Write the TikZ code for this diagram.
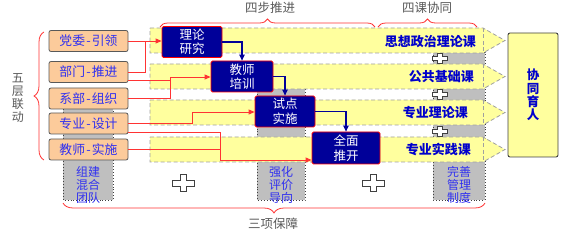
\documentclass[tikz,border=0pt]{standalone}
\usepackage{fontspec}
\setmainfont{Noto Sans CJK SC}
\usetikzlibrary{arrows.meta,decorations.pathreplacing,calc}
\definecolor{orangefill}{HTML}{FCCB9B}
\definecolor{boxgray}{HTML}{595959}
\definecolor{txtblue}{HTML}{3030F0}
\definecolor{courseblue}{HTML}{0000CC}
\definecolor{navy}{HTML}{000099}
\definecolor{laneyellow}{HTML}{FFFF9E}
\definecolor{lanegray}{HTML}{A0A0A0}
\definecolor{colgray}{HTML}{BFBFBF}
\definecolor{linered}{HTML}{FF3333}
\definecolor{labelgray}{HTML}{595959}
\definecolor{plusgray}{HTML}{404040}
\newcommand{\lhy}{\kern1.2pt-\kern1.2pt}
\tikzset{
  layerbox/.style={draw=boxgray, fill=orangefill, rounded corners=2pt, minimum width=79pt,
    minimum height=21pt, inner sep=0pt, text=txtblue, line width=0.8pt,
    font=\fontsize{12.8}{14}\selectfont},
  stepbox/.style={draw=red, fill=navy, text=white, minimum width=60pt, minimum height=31pt,
    inner sep=0pt, align=center, rounded corners=1.5pt, line width=0.8pt,
    font=\fontsize{12.5}{14.5}\selectfont},
  lanebox/.style={draw=lanegray, dashed, dash pattern=on 4pt off 2.5pt, fill=laneyellow, line width=0.8pt},
  lanedash/.style={draw=lanegray, dash pattern=on 4pt off 2.5pt, line width=0.8pt},
  graycol/.style={draw=plusgray, dotted, fill=colgray, line width=0.9pt},
  coltext/.style={text=txtblue, align=center, inner sep=0pt, font=\fontsize{12}{12.8}\selectfont},
  course/.style={text=courseblue, inner sep=0pt, font=\bfseries\fontsize{13}{15}\selectfont},
  toplabel/.style={text=labelgray, inner sep=0pt, font=\fontsize{12.5}{14}\selectfont},
  redline/.style={draw=linered, line width=0.9pt},
  redarrow/.style={redline, -{Triangle[length=6pt,width=5pt]}},
  bluearrow/.style={draw=navy, line width=1.1pt, -{Triangle[length=6pt,width=5.5pt]}},
  bracered/.style={draw=linered, line width=0.8pt, decorate},
  plusfill/.style={draw=plusgray, fill=white, line width=0.9pt},
  bigplus/.pic={\draw[plusfill] (-3,-8.5) -- (3,-8.5) -- (3,-3) -- (11,-3) -- (11,3) -- (3,3)
     -- (3,8.5) -- (-3,8.5) -- (-3,3) -- (-11,3) -- (-11,-3) -- (-3,-3) -- cycle;},
  smallplus/.pic={\draw[plusfill] (-2.2,-5) -- (2.2,-5) -- (2.2,-2) -- (7.5,-2) -- (7.5,2) -- (2.2,2)
     -- (2.2,5) -- (-2.2,5) -- (-2.2,2) -- (-7.5,2) -- (-7.5,-2) -- (-2.2,-2) -- cycle;}
}
\begin{document}
\begin{tikzpicture}[x=1pt,y=-1pt]
\useasboundingbox (0,0) rectangle (571,235);

% guarantee columns (behind)
\draw[graycol] (63,106) rectangle (113,200);
\draw[graycol] (257,88) rectangle (305,200);
\draw[graycol] (433,52) rectangle (485,200);

% course lanes
\foreach \t/\b in {28/53, 64/89, 100/125, 137/162} {
  \draw[lanebox] (150,\t) -- (483,\t) -- (505,{(\t+\b)/2}) -- (483,\b) -- (150,\b) -- cycle;
  \draw[lanedash] (483,\t) -- (483,\b);
}

% small pluses between lanes
\pic at (440,58.5) {smallplus};
\pic at (440,94.5) {smallplus};
\pic at (440,131) {smallplus};
% big pluses
\pic at (183,183) {bigplus};
\pic at (373,183) {bigplus};

% braces
\draw[bracered, decoration={brace, amplitude=8pt}] (160,27) -- (375,27);
\draw[bracered, decoration={brace, amplitude=8pt}] (378,27) -- (477,27);
\draw[bracered, decoration={brace, amplitude=10pt}] (485,203) -- (63,203);
\draw[bracered, decoration={brace, amplitude=10pt}] (44,160) -- (44,32);

% labels
\node[toplabel] (l4b) at (270,8) {四步推进};
\node[toplabel] (l4k) at (427,8) {四课协同};
\node[toplabel] (l3x) at (273,224) {三项保障};
\node[toplabel, align=center, font=\fontsize{12}{13.3}\selectfont] (l5c) at (18,98) {五\\层\\联\\动};

% five layers
\node[layerbox] (dw) at (88.5,41) {党委\lhy 引领};
\node[layerbox] (bm) at (88.5,72) {部门\lhy 推进};
\node[layerbox] (xb) at (88.5,98.5) {系部\lhy 组织};
\node[layerbox] (zy) at (88.5,123.5) {专业\lhy 设计};
\node[layerbox] (js) at (88.5,149.5) {教师\lhy 实施};

% four steps
\node[stepbox] (s1) at (192,42) {理论\\研究};
\node[stepbox, minimum width=62pt] (s2) at (242,76.5) {教师\\培训};
\node[stepbox] (s3) at (285,111.5) {试点\\实施};
\node[stepbox, minimum width=68pt, minimum height=32pt] (s4) at (346,148) {全面\\推开};

% courses
\node[course, anchor=east] (c1) at (476,42) {思想政治理论课};
\node[course, anchor=east] (c2) at (474,77) {公共基础课};
\node[course, anchor=east] (c3) at (468,113) {专业理论课};
\node[course, anchor=east] (c4) at (471,150) {专业实践课};

% result
\node[draw=plusgray, fill=laneyellow, line width=0.9pt, rounded corners=2pt,
  minimum width=50pt, minimum height=124pt, inner sep=0pt, align=center, text=courseblue,
  font=\bfseries\fontsize{12.5}{13.2}\selectfont] (xt) at (533,95) {协\\同\\育\\人};

% guarantee texts
\node[coltext] (g1t) at (88,185) {组建\\混合\\团队};
\node[coltext] (g2t) at (281,185) {强化\\评价\\导向};
\node[coltext] (g3t) at (459,185) {完善\\管理\\制度};

% red connectors
\coordinate (j1) at (145,41);
\coordinate (j2) at (170,77);
\coordinate (j3) at (192,112);
\coordinate (j4) at (220,160);
\draw[redarrow] (dw.east) -- (dw.east -| s1.west);
\draw[redline] (bm.east) -| (j1);
\draw[redarrow] (j2) -- (j2 -| s2.west);
\draw[redline] ([yshift=-8pt]bm.east) -| (j2);
\draw[redline] (xb.east) -| (j2);
\draw[redarrow] (j3) -- (j3 -| s3.west);
\draw[redline] ([yshift=0.5pt]zy.east) -| (j3);
\draw[redline] ([yshift=-8.5pt]zy.east) -| (j4);
\draw[redline] (js.east) -| (j4);
\draw[redarrow] (j4) -- (j4 -| s4.west);

% blue step connectors
\draw[bluearrow] (s1.east) -| (s2.north);
\draw[bluearrow] (s2.east) -| (s3.north);
\draw[bluearrow] (s3.east) -| (s4.north);
\end{tikzpicture}
\end{document}
